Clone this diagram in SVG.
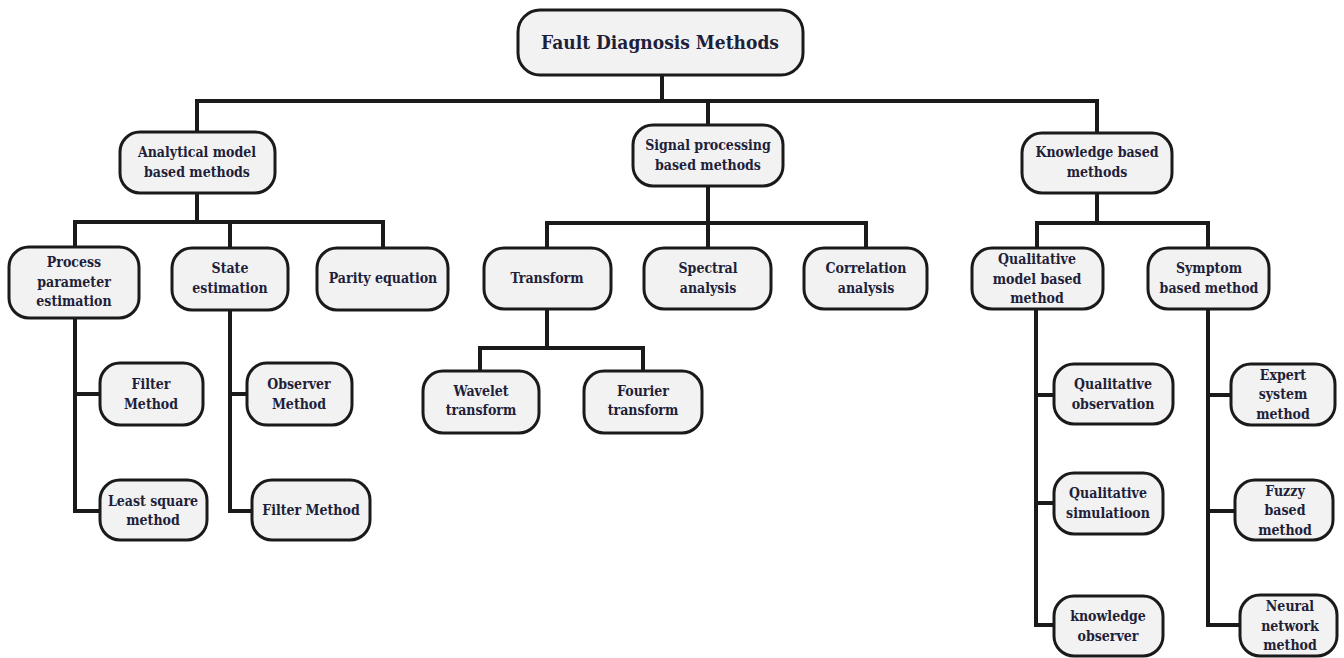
<svg xmlns="http://www.w3.org/2000/svg" width="1344" height="658" viewBox="0 0 1344 658">
<style>
.n{fill:#f2f2f2;stroke:#1a1a1a;stroke-width:3}
.t{font-family:'DejaVu Serif Condensed','DejaVu Serif',serif;font-stretch:condensed;font-weight:700;font-size:14px;fill:#1f1f3a;text-anchor:middle}
.r{font-size:19px}
.c{fill:none;stroke:#1a1a1a;stroke-width:4;stroke-linejoin:miter;stroke-linecap:square}
</style>
<rect width="1344" height="658" fill="#fff"/>
<g id="connectors">
<path class="c" d="M662,75V101M197,101H1097M197,101V132M708,101V125M1097,101V133"/>
<path class="c" d="M197,193V222M75,222H383M75,222V247M230,222V248M383,222V248"/>
<path class="c" d="M708,186V223M547,223H866M547,223V248M708,223V248M866,223V248"/>
<path class="c" d="M547,309V348M480,348H643M480,348V371M643,348V371"/>
<path class="c" d="M1097,193V223M1037,223H1208M1037,223V248M1208,223V248"/>
<path class="c" d="M75,318V511H100M75,394H100"/>
<path class="c" d="M230,310V511H252M230,394H247"/>
<path class="c" d="M1036,309V625H1054M1036,395H1054M1036,503H1054"/>
<path class="c" d="M1208,309V625H1240M1208,395H1231M1208,511H1235"/>
</g>
<g id="root"><rect class="n" x="518" y="10" width="285" height="65" rx="22"/><text class="t r" x="660" y="49">Fault Diagnosis Methods</text></g>
<g id="analytical"><rect class="n" x="120" y="132" width="155" height="61" rx="20"/><text class="t" x="197" y="157">Analytical model</text><text class="t" x="197" y="177">based methods</text></g>
<g id="signal"><rect class="n" x="633" y="125" width="150" height="61" rx="20"/><text class="t" x="708" y="150">Signal processing</text><text class="t" x="708" y="170">based methods</text></g>
<g id="knowledge"><rect class="n" x="1022" y="133" width="150" height="60" rx="20"/><text class="t" x="1097" y="157">Knowledge based</text><text class="t" x="1097" y="177">methods</text></g>
<g id="process"><rect class="n" x="9" y="247" width="130" height="71" rx="20"/><text class="t" x="74" y="267">Process</text><text class="t" x="74" y="287">parameter</text><text class="t" x="74" y="306">estimation</text></g>
<g id="state"><rect class="n" x="172" y="248" width="116" height="62" rx="20"/><text class="t" x="230" y="273">State</text><text class="t" x="230" y="293">estimation</text></g>
<g id="parity"><rect class="n" x="317" y="248" width="131" height="62" rx="20"/><text class="t" x="383" y="283">Parity equation</text></g>
<g id="transform"><rect class="n" x="484" y="248" width="127" height="61" rx="20"/><text class="t" x="547" y="283">Transform</text></g>
<g id="spectral"><rect class="n" x="644" y="248" width="127" height="61" rx="20"/><text class="t" x="708" y="273">Spectral</text><text class="t" x="708" y="293">analysis</text></g>
<g id="correlation"><rect class="n" x="804" y="248" width="123" height="61" rx="20"/><text class="t" x="866" y="273">Correlation</text><text class="t" x="866" y="293">analysis</text></g>
<g id="qualmodel"><rect class="n" x="972" y="248" width="131" height="61" rx="20"/><text class="t" x="1037" y="264">Qualitative</text><text class="t" x="1037" y="284">model based</text><text class="t" x="1037" y="303">method</text></g>
<g id="symptom"><rect class="n" x="1148" y="248" width="121" height="61" rx="20"/><text class="t" x="1209" y="273">Symptom</text><text class="t" x="1209" y="293">based method</text></g>
<g id="wavelet"><rect class="n" x="423" y="371" width="116" height="62" rx="20"/><text class="t" x="481" y="396">Wavelet</text><text class="t" x="481" y="415">transform</text></g>
<g id="fourier"><rect class="n" x="584" y="371" width="118" height="62" rx="20"/><text class="t" x="643" y="396">Fourier</text><text class="t" x="643" y="415">transform</text></g>
<g id="filter1"><rect class="n" x="100" y="363" width="103" height="62" rx="20"/><text class="t" x="151" y="389">Filter</text><text class="t" x="151" y="409">Method</text></g>
<g id="leastsquare"><rect class="n" x="100" y="480" width="107" height="60" rx="20"/><text class="t" x="153" y="506">Least square</text><text class="t" x="153" y="525">method</text></g>
<g id="observer"><rect class="n" x="247" y="363" width="105" height="62" rx="20"/><text class="t" x="299" y="389">Observer</text><text class="t" x="299" y="409">Method</text></g>
<g id="filter2"><rect class="n" x="252" y="480" width="118" height="60" rx="20"/><text class="t" x="311" y="515">Filter Method</text></g>
<g id="qualobs"><rect class="n" x="1054" y="364" width="119" height="60" rx="20"/><text class="t" x="1113" y="389">Qualitative</text><text class="t" x="1113" y="409">observation</text></g>
<g id="qualsim"><rect class="n" x="1054" y="473" width="109" height="61" rx="20"/><text class="t" x="1108" y="498">Qualitative</text><text class="t" x="1108" y="518">simulatioon</text></g>
<g id="knowobs"><rect class="n" x="1054" y="596" width="109" height="60" rx="20"/><text class="t" x="1108" y="621">knowledge</text><text class="t" x="1108" y="641">observer</text></g>
<g id="expert"><rect class="n" x="1231" y="364" width="104" height="61" rx="20"/><text class="t" x="1283" y="380">Expert</text><text class="t" x="1283" y="399">system</text><text class="t" x="1283" y="419">method</text></g>
<g id="fuzzy"><rect class="n" x="1235" y="480" width="98" height="60" rx="20"/><text class="t" x="1285" y="496">Fuzzy</text><text class="t" x="1285" y="515">based</text><text class="t" x="1285" y="535">method</text></g>
<g id="neural"><rect class="n" x="1240" y="595" width="97" height="61" rx="20"/><text class="t" x="1290" y="611">Neural</text><text class="t" x="1290" y="631">network</text><text class="t" x="1290" y="650">method</text></g>
</svg>
